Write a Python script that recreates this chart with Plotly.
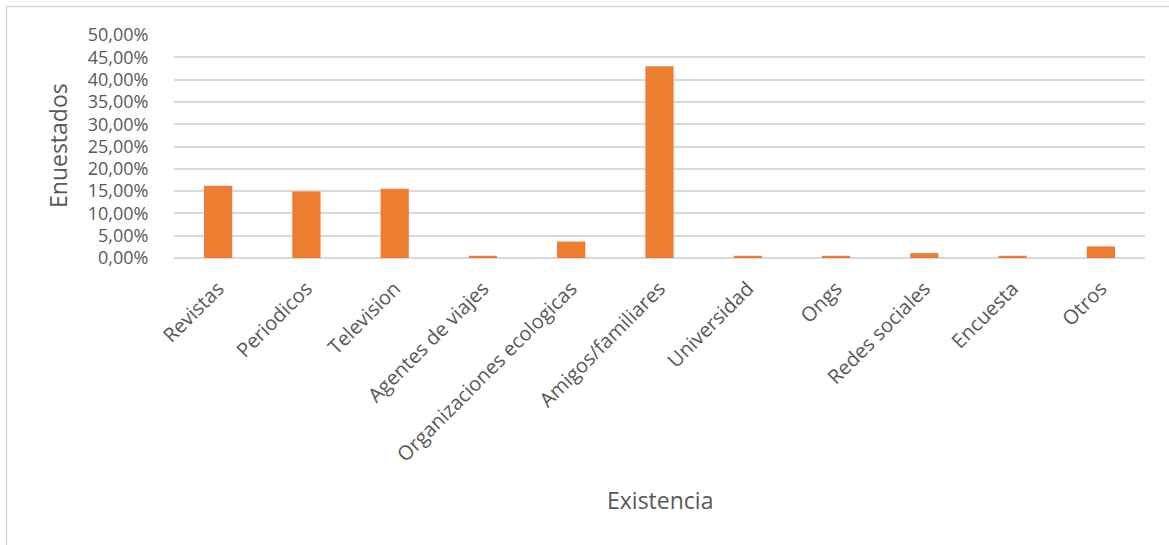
import plotly.graph_objects as go

# Fuentes de información (proporción de encuestados)
categorias = [
    "Revistas", "Periodicos", "Television", "Agentes de viajes",
    "Organizaciones ecologicas", "Amigos/familiares", "Universidad",
    "Ongs", "Redes sociales", "Encuesta", "Otros",
]
porcentajes = [0.162, 0.149, 0.155, 0.005, 0.037, 0.430, 0.005, 0.005, 0.011, 0.005, 0.026]

eje_y_max = 0.5
eje_y_paso = 0.05
titulo_x = "Existencia"
titulo_y = "Enuestados"

gris_texto = "#595959"
fuente = "Open Sans"

fig = go.Figure(
    go.Bar(
        x=categorias,
        y=porcentajes,
        marker=dict(color="#ED7D31", line=dict(width=0)),
    )
)

W, H = 1169, 545
L, R, T, B = 174, 24, 35, 287
pw, ph = W - L - R, H - T - B


def px_x(p):
    return (p - L) / pw


def px_y(p):
    return (H - B - p) / ph


fig.update_layout(
    width=W,
    height=H,
    margin=dict(l=L, r=R, t=T, b=B),
    paper_bgcolor="white",
    plot_bgcolor="white",
    separators=",.",
    bargap=0.68,
    showlegend=False,
    font=dict(family=fuente, color=gris_texto, size=20),
    xaxis=dict(
        tickangle=-45,
        tickfont=dict(size=20, color=gris_texto),
        showgrid=False,
        showline=False,
        zeroline=False,
        ticks="outside",
        ticklen=10,
        tickcolor="rgba(0,0,0,0)",
        fixedrange=True,
    ),
    yaxis=dict(
        range=[0, eje_y_max],
        dtick=eje_y_paso,
        tick0=0,
        tickformat=".2%",
        tickfont=dict(size=18, color=gris_texto),
        showgrid=True,
        gridcolor="#D9D9D9",
        gridwidth=1.5,
        zeroline=True,
        zerolinecolor="#D9D9D9",
        zerolinewidth=1.5,
        showline=False,
        ticks="outside",
        ticklen=21,
        tickcolor="rgba(0,0,0,0)",
        fixedrange=True,
    ),
    annotations=[
        dict(
            text=titulo_y, textangle=-90,
            xref="paper", yref="paper",
            x=px_x(58), y=px_y(146),
            xanchor="center", yanchor="middle",
            showarrow=False,
            font=dict(size=23, color=gris_texto, family=fuente),
        ),
        dict(
            text=titulo_x,
            xref="paper", yref="paper",
            x=0.5, y=px_y(500),
            xanchor="center", yanchor="middle",
            showarrow=False,
            font=dict(size=23, color=gris_texto, family=fuente),
        ),
    ],
    shapes=[
        dict(
            type="rect", xref="paper", yref="paper",
            x0=px_x(6.5), x1=px_x(1175), y0=px_y(560), y1=px_y(6.5),
            line=dict(color="#D9D9D9", width=1.5),
            fillcolor="rgba(0,0,0,0)", layer="below",
        )
    ],
)

fig.write_html("out.html")
